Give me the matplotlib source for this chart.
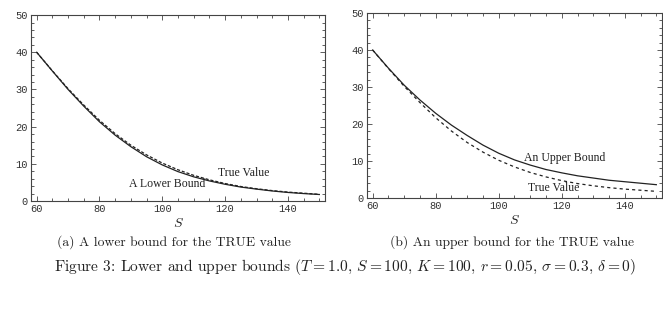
import matplotlib
matplotlib.use('Agg')
import matplotlib.pyplot as plt
from matplotlib.ticker import MultipleLocator

plt.rcParams['mathtext.fontset'] = 'cm'

# Stock price grid and option values
S = [60, 65, 70, 75, 80, 85, 90, 95, 100, 105, 110, 115, 120, 125, 130, 135, 140, 145, 150]
true_value = [40.0, 35.0, 30.2, 25.8, 21.7, 18.1, 15.0, 12.4, 10.2, 8.4, 6.9, 5.7, 4.7,
              3.9, 3.3, 2.8, 2.4, 2.1, 1.8]
lower_bound = [40.0, 34.95, 30.0, 25.5, 21.3, 17.7, 14.6, 11.9, 9.7, 7.9, 6.5, 5.4, 4.5,
               3.75, 3.2, 2.7, 2.3, 2.0, 1.75]
upper_bound = [40.0, 35.1, 30.5, 26.5, 22.9, 19.7, 16.9, 14.3, 12.1, 10.3, 8.9, 7.7, 6.8,
               6.0, 5.4, 4.8, 4.4, 4.0, 3.6]

x_ticks = [60, 80, 100, 120, 140]
y_ticks = [0, 10, 20, 30, 40, 50]

fig = plt.figure(figsize=(6.63, 3.13), dpi=100)
ax1 = fig.add_axes([0.0468, 0.3578, 0.4434, 0.594])
ax2 = fig.add_axes([0.5535, 0.3674, 0.445, 0.591])

ink = '#222222'


def style(ax):
    ax.set_xlim(58.2, 151.8)
    ax.set_ylim(0, 50)
    ax.set_xticks(x_ticks)
    ax.set_yticks(y_ticks)
    ax.xaxis.set_minor_locator(MultipleLocator(5))
    ax.yaxis.set_minor_locator(MultipleLocator(2))
    ax.tick_params(which='both', direction='in', top=True, right=True,
                   color='#444444', width=0.6)
    ax.tick_params(which='major', length=3.5, labelsize=7.5, labelcolor='#333333', pad=2.5)
    ax.tick_params(which='minor', length=2)
    for lab in ax.get_xticklabels() + ax.get_yticklabels():
        lab.set_family('Liberation Mono')
    for sp in ax.spines.values():
        sp.set_color('#444444')
        sp.set_linewidth(0.8)
    ax.set_xlabel('$S$', fontsize=10, labelpad=1, color=ink)


# (a) lower bound
ax1.plot(S, lower_bound, color=ink, lw=0.9)
ax1.plot(S, true_value, color=ink, lw=0.9, dashes=(2.5, 1.5))
style(ax1)
ax1.text(117.6, 7.6, 'True Value', family='Liberation Serif', fontsize=8.5,
         va='center', color=ink)
ax1.text(89.4, 4.6, 'A Lower Bound', family='Liberation Serif', fontsize=8.5,
         va='center', color=ink)

# (b) upper bound
ax2.plot(S, upper_bound, color=ink, lw=0.9)
ax2.plot(S, true_value, color=ink, lw=0.9, dashes=(2.5, 2.5))
style(ax2)
ax2.text(108, 10.7, 'An Upper Bound', family='Liberation Serif', fontsize=8.5,
         va='center', color=ink)
ax2.text(109.3, 2.6, 'True Value', family='Liberation Serif', fontsize=8.5,
         va='center', color=ink)

# captions
fig.text(0.2628, 1 - 242 / 313, '(a) A lower bound for the TRUE value',
         family='cmr10', fontsize=9.8, ha='center', va='center', color=ink)
fig.text(0.7715, 1 - 242 / 313, '(b) An upper bound for the TRUE value',
         family='cmr10', fontsize=9.8, ha='center', va='center', color=ink)
fig.text(0.5207, 1 - 267 / 313,
         r'Figure 3: Lower and upper bounds ($T = 1.0$, $S = 100$, $K = 100$, '
         r'$r = 0.05$, $\sigma = 0.3$, $\delta = 0$)',
         family='cmr10', fontsize=11.2, ha='center', va='center', color=ink)

fig.savefig('out.png', dpi=100)
